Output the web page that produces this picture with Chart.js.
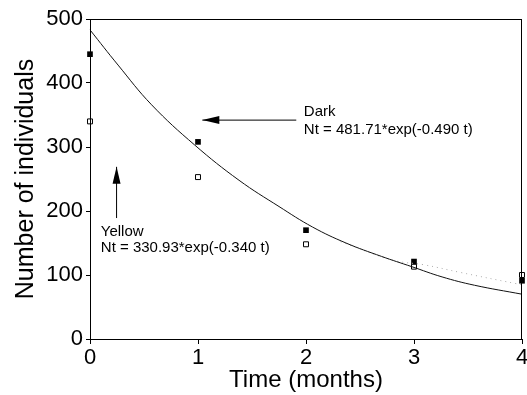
<!DOCTYPE html>
<html>
<head>
<meta charset="utf-8">
<script src="https://cdn.jsdelivr.net/npm/chart.js@4"></script>
<style>body{margin:0;background:#fff}</style>
</head>
<body>
<canvas id="grafico" width="527" height="395"></canvas>
<script>
// puntos observados (meses, individuos)
const meses = [0, 1, 2, 3, 4];
const oscuros = [445, 308, 170, 121, 91];
const amarillos = [340, 253, 148, 113, 100];

// curva ajustada "Dark"
const curvaOscuraT = [0, 0.26, 0.57, 0.97, 1.38, 1.75, 2.06, 2.37, 2.70, 2.98, 3.26, 3.56, 4];
const curvaOscuraN = [483, 428, 366, 303, 248, 207, 175, 150, 129, 113, 97, 84, 70];
// curva "Yellow" punteada (solo se ve la cola)
const curvaAmarillaT = [2.32, 2.81, 3.09, 3.43, 3.93, 4];
const curvaAmarillaN = [152, 123, 116, 104, 87, 85];

const ticksX = [0, 1, 2, 3, 4];
const ticksY = [0, 100, 200, 300, 400, 500];

// textos y flechas en coordenadas de datos
const notas = [
    { texto: 'Dark', t: 1.98, n: 355 },
    { texto: 'Nt = 481.71*exp(-0.490 t)', t: 1.98, n: 327 },
    { texto: 'Yellow', t: 0.1, n: 167 },
    { texto: 'Nt = 330.93*exp(-0.340 t)', t: 0.1, n: 142 }
];
const flechas = [
    { desde: [1.91, 342], hasta: [1.04, 342] },
    { desde: [0.246, 189], hasta: [0.246, 269] }
];

const fuente = '"Liberation Sans", Arial, sans-serif';

const pares = (xs, ys) => xs.map((x, i) => ({ x: x, y: ys[i] }));

const extras = {
    id: 'extras',
    afterDraw(chart) {
        const ctx = chart.ctx;
        const a = chart.chartArea;
        const sx = chart.scales.x, sy = chart.scales.y;
        ctx.save();
        // marco
        ctx.strokeStyle = '#000';
        ctx.lineWidth = 1;
        ctx.strokeRect(a.left + 0.5, a.top + 0.5, a.right - a.left - 1, a.bottom - a.top);
        // flechas
        flechas.forEach(f => {
            const x1 = sx.getPixelForValue(f.desde[0]), y1 = sy.getPixelForValue(f.desde[1]);
            const x2 = sx.getPixelForValue(f.hasta[0]), y2 = sy.getPixelForValue(f.hasta[1]);
            const ang = Math.atan2(y2 - y1, x2 - x1);
            ctx.beginPath();
            ctx.moveTo(x1, y1);
            ctx.lineTo(x2, y2);
            ctx.stroke();
            ctx.beginPath();
            ctx.moveTo(x2, y2);
            ctx.lineTo(x2 - 17 * Math.cos(ang) - 4 * Math.sin(ang), y2 - 17 * Math.sin(ang) + 4 * Math.cos(ang));
            ctx.lineTo(x2 - 17 * Math.cos(ang) + 4 * Math.sin(ang), y2 - 17 * Math.sin(ang) - 4 * Math.cos(ang));
            ctx.closePath();
            ctx.fillStyle = '#000';
            ctx.fill();
        });
        // textos
        ctx.font = '15px ' + fuente;
        ctx.fillStyle = '#000';
        ctx.textBaseline = 'middle';
        ctx.textAlign = 'left';
        notas.forEach(n => {
            ctx.fillText(n.texto, sx.getPixelForValue(n.t), sy.getPixelForValue(n.n));
        });
        ctx.restore();
    }
};

new Chart(document.getElementById('grafico'), {
    type: 'scatter',
    data: {
        datasets: [
            {
                label: 'Dark fit',
                data: pares(curvaOscuraT, curvaOscuraN),
                showLine: true,
                borderColor: '#111',
                borderWidth: 1,
                pointRadius: 0,
                tension: 0.4,
                clip: false
            },
            {
                label: 'Yellow fit',
                data: pares(curvaAmarillaT, curvaAmarillaN),
                showLine: true,
                borderColor: '#aaa',
                borderWidth: 1,
                borderDash: [1, 4],
                pointRadius: 0,
                tension: 0.4,
                clip: false
            },
            {
                label: 'Dark',
                data: pares(meses, oscuros),
                pointStyle: 'rect',
                pointRadius: 4,
                backgroundColor: '#000',
                borderColor: '#000',
                borderWidth: 0,
                clip: false
            },
            {
                label: 'Yellow',
                data: pares(meses, amarillos),
                pointStyle: 'rect',
                pointRadius: 3.5,
                backgroundColor: '#fff',
                borderColor: '#000',
                borderWidth: 1,
                clip: false
            }
        ]
    },
    options: {
        responsive: false,
        animation: false,
        layout: { padding: { top: 19, right: 3, left: 0, bottom: 0 } },
        plugins: { legend: { display: false }, tooltip: { enabled: false } },
        scales: {
            x: {
                type: 'linear',
                min: 0,
                max: 4,
                afterBuildTicks: s => { s.ticks = ticksX.map(v => ({ value: v })); },
                afterFit: s => { s.height = 56; s.paddingLeft = 0; s.paddingRight = 0; },
                border: { color: '#000', width: 1 },
                grid: { drawOnChartArea: false, drawTicks: true, tickLength: 5, color: '#000' },
                ticks: { color: '#000', padding: 1, font: { family: fuente, size: 22 }, maxRotation: 0 },
                title: { display: true, text: 'Time (months)', color: '#000', padding: { top: 1, bottom: 0 }, font: { family: fuente, size: 24 } }
            },
            y: {
                min: 0,
                max: 500,
                afterBuildTicks: s => { s.ticks = ticksY.map(v => ({ value: v })); },
                afterFit: s => { s.width = 90; },
                border: { color: '#000', width: 1 },
                grid: { drawOnChartArea: false, drawTicks: true, tickLength: 4, color: '#000' },
                ticks: { color: '#000', padding: 3, font: { family: fuente, size: 22 } },
                title: { display: true, text: 'Number of individuals', color: '#000', padding: { top: 11, bottom: 0 }, font: { family: fuente, size: 25 } }
            }
        }
    },
    plugins: [extras]
});
</script>
</body>
</html>
